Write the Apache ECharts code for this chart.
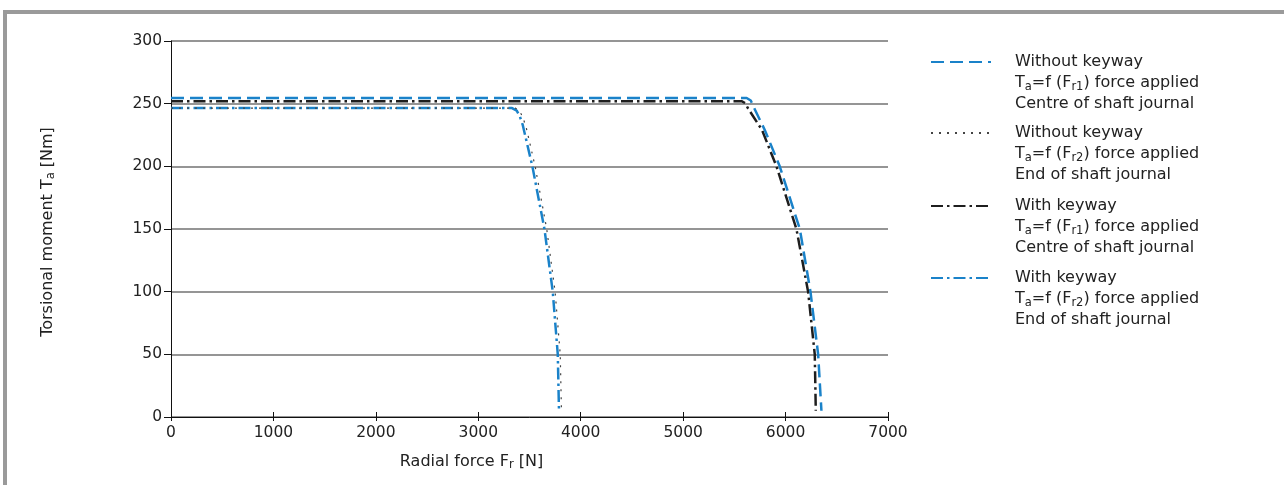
<!DOCTYPE html>
<html><head><meta charset="utf-8">
<script src="https://cdn.jsdelivr.net/npm/echarts@6/dist/echarts.min.js"></script>
<style>
html,body{margin:0;padding:0;background:#fff;width:1284px;height:485px;overflow:hidden;}
#frame{position:absolute;left:3px;top:10px;right:0;bottom:0;border-top:4px solid #9a9a9a;border-left:4px solid #9a9a9a;}
#chart{position:absolute;left:0;top:0;width:1284px;height:485px;}
</style></head><body>
<div id="frame"></div><div id="chart"></div>
<script>
// ---- data ----
const xTickValues = [0, 1000, 2000, 3000, 4000, 5000, 6000, 7000];
const yTickValues = [0, 50, 100, 150, 200, 250, 300];

const withoutKeywayFr1 = [[0,254.5],[5620,254.5],[5660,252.5],[5690,247],[5797,229],[5943,200],[6139,150],[6243,100],[6318,50],[6350,5]];
const withoutKeywayFr2 = [[0,246.5],[3360,246.5],[3400,244.5],[3430,240],[3465,232],[3555,200],[3668,150],[3750,100],[3800,50],[3812,5]];
const withKeywayFr1    = [[0,252],[5570,252],[5605,250.5],[5635,246],[5770,229],[5911,200],[6106,150],[6220,100],[6285,50],[6295,5]];
const withKeywayFr2    = [[0,246.5],[3330,246.5],[3375,244.5],[3405,240],[3434,233],[3528,200],[3646,150],[3727,100],[3776,50],[3788,5]];

const legendLines = [
  ['Without keyway', 'r1', 'Centre of shaft journal'],
  ['Without keyway', 'r2', 'End of shaft journal'],
  ['With keyway', 'r1', 'Centre of shaft journal'],
  ['With keyway', 'r2', 'End of shaft journal']
];
const seriesNames = ['s1', 's2', 's3', 's4'];
const seriesData = [withoutKeywayFr1, withoutKeywayFr2, withKeywayFr1, withKeywayFr2];

// ---- styles ----
const BLUE = '#1a82c9', BLACK = '#1e1e1e', TXT = '#222';
const FONT = '"DejaVu Sans", sans-serif';
const lineColors = [BLUE, '#444', BLACK, BLUE];
const lineStyles = [
  {color: BLUE, width: 2.5, type: [13, 6], cap: 'butt'},
  {color: '#444', width: 1.2, type: [2, 6], cap: 'butt'},
  {color: BLACK, width: 2.5, type: [12, 4, 2.5, 4], cap: 'butt'},
  {color: BLUE, width: 2.5, type: [12, 4, 2.5, 4], cap: 'butt'}
];
const rich = {
  n: {fontFamily: FONT, fontSize: 16, color: TXT, lineHeight: 21},
  s: {fontFamily: FONT, fontSize: 11.5, color: TXT, padding: [8, 0, 0, 0], lineHeight: 13}
};

const legendTops = [62, 133, 206, 278];
const legends = seriesNames.map((nm, i) => ({
  data: [nm],
  orient: 'vertical',
  left: 930,
  top: legendTops[i] - 52.5,
  padding: 0,
  itemWidth: 60,
  itemHeight: 14,
  itemGap: 0,
  selectedMode: false,
  itemStyle: {opacity: 0},
  formatter: () => {
    const L = legendLines[i];
    return '{n|' + L[0] + '}\n{n|T}{s|a}{n|=f (F}{s|' + L[1] + '}{n|) force applied}\n{n|' + L[2] + '}';
  },
  textStyle: {fontFamily: FONT, fontSize: 16, color: TXT, lineHeight: 21, padding: [42, 0, 0, 19], rich: rich}
}));

const chart = echarts.init(document.getElementById('chart'), null, {renderer: 'canvas'});
chart.setOption({
  backgroundColor: 'transparent',
  animation: false,
  grid: {left: 171, right: 396, top: 41, bottom: 68, containLabel: false},
  legend: legends,
  xAxis: [{
    type: 'value', min: xTickValues[0], max: xTickValues[xTickValues.length - 1], interval: 1000,
    name: '{n|Radial force F}{s|r}{n| [N]}', nameLocation: 'middle', nameGap: 34,
    nameTextStyle: {rich: rich, padding: [0, 116, 0, 0]},
    axisLine: {show: true, onZero: false, lineStyle: {color: '#111', width: 1}},
    axisTick: {show: true, inside: false, length: 4, lineStyle: {color: '#111', width: 1}},
    axisLabel: {fontFamily: FONT, fontSize: 15.5, color: TXT, margin: 8, formatter: v => String(v)},
    splitLine: {show: false}
  }, {
    type: 'value', min: xTickValues[0], max: xTickValues[xTickValues.length - 1], interval: 1000,
    position: 'bottom',
    axisLine: {show: false},
    axisTick: {show: true, inside: true, length: 5, lineStyle: {color: '#111', width: 1}},
    axisLabel: {show: false},
    splitLine: {show: false}
  }],
  yAxis: {
    type: 'value', min: yTickValues[0], max: yTickValues[yTickValues.length - 1], interval: 50,
    name: '{n|Torsional moment T}{s|a}{n| [Nm]}', nameLocation: 'middle', nameGap: 113,
    nameTextStyle: {rich: rich, padding: [0, 6, 0, 0]},
    axisLine: {show: true, lineStyle: {color: '#111', width: 1}},
    axisTick: {show: true, inside: false, length: 7, lineStyle: {color: '#111', width: 1}},
    axisLabel: {fontFamily: FONT, fontSize: 15.5, color: TXT, margin: 9, padding: [0, 0, 6, 0], formatter: v => String(v)},
    splitLine: {show: true, lineStyle: {color: '#727272', width: 1.5}}
  },
  series: seriesData.map((d, i) => ({
    name: seriesNames[i], type: 'line', data: d, xAxisIndex: 0,
    symbol: 'none', showSymbol: false, smooth: false,
    itemStyle: {color: lineColors[i], opacity: 0},
    lineStyle: lineStyles[i], z: [4, 5, 3, 2][i]
  }))
});
</script>
</body></html>
